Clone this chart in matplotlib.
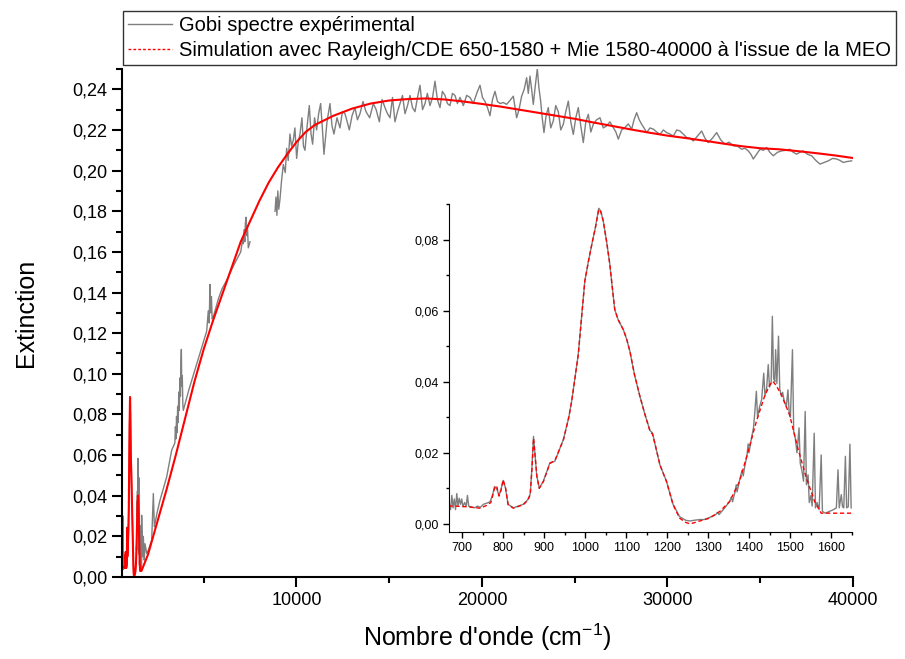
import matplotlib
matplotlib.use("Agg")
import matplotlib.pyplot as plt
from matplotlib.lines import Line2D
from matplotlib.ticker import FuncFormatter, MultipleLocator

plt.rcParams['font.family'] = ['Liberation Sans', 'DejaVu Sans']
plt.rcParams['mathtext.fontset'] = 'custom'
plt.rcParams['mathtext.rm'] = 'Liberation Sans'

# --- Données IR (650-1650 cm-1), simulation Rayleigh/CDE ---
sim_ir_x = [650, 665, 680, 700, 720, 744, 760, 770, 779, 784, 790, 795, 800, 806, 812, 825, 849,
            860, 866, 870, 874, 878, 882, 888, 898, 914, 926, 947, 960, 967, 975, 983, 991, 999,
            1008, 1016, 1025, 1033, 1038, 1044, 1052, 1060, 1066, 1072, 1080, 1093, 1101, 1109,
            1120, 1133, 1145, 1158, 1164, 1170, 1182, 1198, 1214, 1230, 1245, 1255, 1265, 1279,
            1303, 1328, 1352, 1376, 1397, 1417, 1437, 1450, 1457, 1465, 1478, 1498, 1518, 1539,
            1559, 1575]
sim_ir_y = [0.0050, 0.0050, 0.0050, 0.0049, 0.0047, 0.0044, 0.0052, 0.0060, 0.0100, 0.0107,
            0.0078, 0.0095, 0.0124, 0.0100, 0.0054, 0.0044, 0.0054, 0.0066, 0.0082, 0.0150,
            0.0241, 0.0190, 0.0135, 0.0100, 0.0119, 0.0170, 0.0178, 0.0237, 0.0300, 0.0345,
            0.0410, 0.0476, 0.0580, 0.0683, 0.0740, 0.0786, 0.0835, 0.0885, 0.0878, 0.0852,
            0.0795, 0.0730, 0.0665, 0.0603, 0.0575, 0.0546, 0.0520, 0.0485, 0.0420, 0.0360,
            0.0310, 0.0260, 0.0252, 0.0225, 0.0166, 0.0119, 0.0054, 0.0016, 0.0004, 0.0000,
            0.0003, 0.0008, 0.0016, 0.0035, 0.0063, 0.0119, 0.0204, 0.0288, 0.0359, 0.0392,
            0.0401, 0.0390, 0.0363, 0.0307, 0.0213, 0.0129, 0.0063, 0.0030]

# --- Simulation Mie (1580-40000 cm-1) ---
mie_x = [1580, 1600, 1625, 1650, 2000, 2500, 3000, 3500, 4000, 4500, 5000, 5500, 6000, 6500,
         7000, 7500, 8000, 8500, 9000, 9500, 10000, 10500, 11000, 12000, 13000, 14000, 15000,
         16000, 17000, 18000, 19000, 20000, 21000, 22000, 23000, 24000, 25000, 26000, 27000,
         28000, 29000, 30000, 31000, 32000, 33000, 34000, 35000, 36000, 37000, 38000, 39000,
         40000]
mie_y = [0.0030, 0.0030, 0.0030, 0.0030, 0.0110, 0.0270, 0.0430, 0.0600, 0.0780, 0.0960,
         0.1120, 0.1260, 0.1390, 0.1520, 0.1650, 0.1750, 0.1850, 0.1940, 0.2015, 0.2080,
         0.2140, 0.2190, 0.2225, 0.2270, 0.2305, 0.2330, 0.2345, 0.2352, 0.2355, 0.2350,
         0.2340, 0.2328, 0.2315, 0.2300, 0.2285, 0.2270, 0.2255, 0.2237, 0.2220, 0.2203,
         0.2187, 0.2172, 0.2160, 0.2147, 0.2133, 0.2120, 0.2110, 0.2105, 0.2096, 0.2086,
         0.2075, 0.2062]

# --- Spectre expérimental IR ---
exp_ir_x = [650, 655, 660, 668, 672, 675, 678, 681, 684, 687, 690, 693, 696, 699, 702, 706, 710,
            713, 716, 722, 730, 738, 744, 752, 760, 768, 774, 779, 784, 790, 795, 800, 806, 812,
            825, 849, 860, 866, 870, 874, 878, 882, 888, 898, 914, 926, 947, 960, 967, 975, 983,
            991, 999, 1008, 1016, 1025, 1033, 1038, 1044, 1052, 1060, 1066, 1072, 1080, 1093,
            1101, 1109, 1120, 1133, 1145, 1158, 1164, 1170, 1182, 1198, 1214, 1230, 1245, 1255,
            1265, 1279, 1290, 1303, 1318, 1322, 1326, 1340, 1352, 1356, 1359, 1365, 1368, 1370,
            1376, 1382, 1385, 1390, 1394, 1397, 1399, 1405, 1410, 1413, 1417, 1420, 1425, 1430,
            1435, 1438, 1442, 1446, 1449, 1453, 1456, 1459, 1462, 1464, 1467, 1471, 1474, 1478,
            1481, 1485, 1490, 1494, 1497, 1500, 1505, 1508, 1512, 1516, 1521, 1524, 1528, 1532,
            1536, 1539, 1543, 1546, 1550, 1553, 1558, 1561, 1565, 1570, 1575, 1578, 1585, 1595,
            1605, 1612, 1616, 1619, 1624, 1627, 1630, 1634, 1637, 1641, 1645, 1648]
exp_ir_y = [0.0040, 0.0300, 0.0050, 0.0060, 0.0040, 0.0080, 0.0045, 0.0070, 0.0040, 0.0085,
            0.0050, 0.0072, 0.0055, 0.0070, 0.0048, 0.0060, 0.0050, 0.0080, 0.0050, 0.0048,
            0.0045, 0.0050, 0.0046, 0.0055, 0.0058, 0.0062, 0.0080, 0.0105, 0.0100, 0.0080,
            0.0098, 0.0122, 0.0100, 0.0055, 0.0045, 0.0055, 0.0068, 0.0084, 0.0155, 0.0246,
            0.0190, 0.0135, 0.0100, 0.0120, 0.0172, 0.0176, 0.0238, 0.0300, 0.0345, 0.0410,
            0.0476, 0.0580, 0.0683, 0.0740, 0.0786, 0.0835, 0.0888, 0.0880, 0.0852, 0.0795,
            0.0730, 0.0665, 0.0603, 0.0575, 0.0546, 0.0520, 0.0485, 0.0420, 0.0360, 0.0310,
            0.0262, 0.0256, 0.0225, 0.0166, 0.0120, 0.0055, 0.0020, 0.0010, 0.0008, 0.0010,
            0.0012, 0.0012, 0.0018, 0.0026, 0.0032, 0.0026, 0.0045, 0.0063, 0.0075, 0.0062,
            0.0090, 0.0110, 0.0090, 0.0122, 0.0150, 0.0135, 0.0170, 0.0190, 0.0225, 0.0200,
            0.0240, 0.0270, 0.0310, 0.0373, 0.0300, 0.0330, 0.0350, 0.0424, 0.0360, 0.0380,
            0.0448, 0.0385, 0.0395, 0.0584, 0.0410, 0.0400, 0.0490, 0.0395, 0.0528, 0.0380,
            0.0360, 0.0370, 0.0345, 0.0330, 0.0377, 0.0310, 0.0300, 0.0490, 0.0260, 0.0240,
            0.0200, 0.0270, 0.0170, 0.0150, 0.0120, 0.0316, 0.0110, 0.0138, 0.0060, 0.0080,
            0.0050, 0.0255, 0.0045, 0.0060, 0.0040, 0.0194, 0.0035, 0.0030, 0.0035, 0.0040,
            0.0045, 0.0152, 0.0045, 0.0082, 0.0048, 0.0045, 0.0190, 0.0045, 0.0048, 0.0224,
            0.0045]

# --- Spectre expérimental proche IR (1650-7500 cm-1) ---
exp_nir_x = [1660, 1700, 1750, 1800, 1840, 1930, 2020, 2200, 2290, 2344, 2500, 2650, 3009, 3278,
             3450, 3480, 3510, 3540, 3570, 3600, 3630, 3660, 3690, 3720, 3750, 3780, 3800, 3820,
             3850, 3880, 3904, 4200, 4600, 5000, 5165, 5250, 5300, 5343, 5380, 5420, 5460, 5521,
             5800, 6000, 6243, 6600, 7000, 7100, 7138, 7180, 7220, 7250, 7284, 7320, 7360, 7408,
             7500]
exp_nir_y = [0.0304, 0.0100, 0.0200, 0.0083, 0.0164, 0.0116, 0.0132, 0.0181, 0.0411, 0.0247,
             0.0320, 0.0378, 0.0493, 0.0624, 0.0660, 0.0740, 0.0680, 0.0790, 0.0710, 0.0840,
             0.0760, 0.0910, 0.0820, 0.0980, 0.0890, 0.1060, 0.1120, 0.0940, 0.0990, 0.0850,
             0.0820, 0.0920, 0.1040, 0.1160, 0.1210, 0.1310, 0.1250, 0.1440, 0.1300, 0.1380,
             0.1270, 0.1280, 0.1370, 0.1420, 0.1460, 0.1530, 0.1600, 0.1660, 0.1640, 0.1710,
             0.1650, 0.1740, 0.1770, 0.1680, 0.1730, 0.1620, 0.1650]

# --- Spectre expérimental visible/UV (8850-40000 cm-1) ---
exp_vis_x = [8850, 8900, 8950, 9000, 9050, 9116, 9200, 9295, 9400, 9475, 9560, 9654, 9740, 9834,
             9920, 10014, 10100, 10193, 10300, 10380, 10463, 10580, 10696, 10790, 10876, 10980,
             11091, 11200, 11307, 11400, 11486, 11650, 11810, 11920, 12025, 12190, 12349, 12480,
             12618, 12740, 12852, 13000, 13157, 13290, 13427, 13590, 13751, 13950, 14146, 14300,
             14470, 14620, 14775, 14910, 15045, 15180, 15314, 15450, 15584, 15720, 15854, 15990,
             16123, 16260, 16393, 16530, 16662, 16800, 16932, 17060, 17201, 17340, 17471, 17600,
             17740, 17870, 18010, 18140, 18279, 18410, 18549, 18680, 18818, 19000, 19178, 19360,
             19537, 19720, 19896, 20030, 20166, 20300, 20435, 20570, 20705, 20840, 20974, 21150,
             21333, 21510, 21692, 21872, 22000, 22141, 22280, 22411, 22500, 22591, 22680, 22770,
             22880, 22986, 23070, 23166, 23250, 23345, 23460, 23579, 23710, 23848, 23980, 24118,
             24250, 24387, 24520, 24657, 24790, 24926, 25060, 25196, 25330, 25465, 25600, 25735,
             25870, 26004, 26180, 26364, 26540, 26723, 26900, 27082, 27220, 27352, 27530, 27711,
             27890, 28071, 28200, 28340, 28480, 28610, 28740, 28879, 29060, 29239, 29420, 29598,
             29780, 29957, 30140, 30317, 30500, 30676, 30850, 31035, 31200, 31395, 31620, 31844,
             32020, 32203, 32430, 32652, 32880, 33101, 33320, 33550, 33780, 34000, 34180, 34359,
             34500, 34628, 34800, 34988, 35170, 35347, 35520, 35706, 35930, 36155, 36380, 36605,
             36780, 36964, 37140, 37323, 37550, 37772, 38000, 38221, 38440, 38670, 38900, 39119,
             39300, 39479, 39700, 39928]
exp_vis_y = [0.180, 0.187, 0.178, 0.190, 0.181, 0.186, 0.195, 0.203, 0.199, 0.211, 0.205, 0.218,
             0.212, 0.215, 0.221, 0.206, 0.214, 0.218, 0.226, 0.212, 0.210, 0.222, 0.232, 0.218,
             0.213, 0.226, 0.220, 0.228, 0.233, 0.221, 0.208, 0.224, 0.233, 0.222, 0.218, 0.226,
             0.221, 0.229, 0.228, 0.224, 0.220, 0.227, 0.231, 0.225, 0.228, 0.234, 0.229, 0.226,
             0.233, 0.230, 0.224, 0.235, 0.231, 0.228, 0.226, 0.236, 0.224, 0.229, 0.233, 0.237,
             0.228, 0.232, 0.237, 0.231, 0.229, 0.236, 0.242, 0.230, 0.233, 0.238, 0.232, 0.236,
             0.244, 0.235, 0.231, 0.239, 0.237, 0.233, 0.232, 0.238, 0.237, 0.233, 0.236, 0.232,
             0.237, 0.236, 0.233, 0.238, 0.242, 0.236, 0.234, 0.231, 0.227, 0.235, 0.239, 0.234,
             0.233, 0.2335, 0.2326, 0.2345, 0.2366, 0.226, 0.230, 0.2366, 0.240, 0.2457, 0.238,
             0.2465, 0.240, 0.2326, 0.242, 0.250, 0.241, 0.2342, 0.226, 0.2187, 0.227, 0.231,
             0.221, 0.2245, 0.232, 0.229, 0.220, 0.2228, 0.229, 0.2342, 0.224, 0.2178, 0.226,
             0.231, 0.222, 0.2138, 0.224, 0.2277, 0.219, 0.2228, 0.225, 0.226, 0.221, 0.222,
             0.224, 0.2212, 0.219, 0.2155, 0.220, 0.2212, 0.223, 0.2204, 0.225, 0.2285, 0.225,
             0.2228, 0.221, 0.2187, 0.221, 0.2204, 0.219, 0.2178, 0.220, 0.2187, 0.218, 0.217,
             0.220, 0.2195, 0.218, 0.2163, 0.216, 0.2146, 0.217, 0.2195, 0.216, 0.2138, 0.216,
             0.2187, 0.215, 0.213, 0.214, 0.2122, 0.212, 0.2105, 0.211, 0.2097, 0.208, 0.2057,
             0.208, 0.2105, 0.210, 0.2114, 0.209, 0.2073, 0.209, 0.2097, 0.210, 0.2105, 0.209,
             0.2081, 0.209, 0.2097, 0.208, 0.2073, 0.205, 0.2032, 0.204, 0.2048, 0.206, 0.2057,
             0.205, 0.204, 0.2045, 0.2048]

gris = '#7f7f7f'
virgule = FuncFormatter(lambda v, p: f"{v:.2f}".replace('.', ','))

fig = plt.figure(figsize=(9.05, 6.59), dpi=100)

# Graphique principal
ax = fig.add_axes([0.1348, 0.1244, 0.8077, 0.7709])
ax.plot(exp_ir_x + exp_nir_x, exp_ir_y + exp_nir_y, color=gris, lw=1.0)
ax.plot(exp_vis_x, exp_vis_y, color=gris, lw=1.0)
ax.plot(sim_ir_x + mie_x, sim_ir_y + mie_y, color='red', lw=1.5)
ax.set_xlim(600, 40000)
ax.set_ylim(0, 0.25)
ax.xaxis.set_major_locator(MultipleLocator(10000))
ax.xaxis.set_minor_locator(MultipleLocator(5000))
ax.yaxis.set_major_locator(MultipleLocator(0.02))
ax.yaxis.set_minor_locator(MultipleLocator(0.01))
ax.yaxis.set_major_formatter(virgule)
for s in ['top', 'right']:
    ax.spines[s].set_visible(False)
for s in ['left', 'bottom']:
    ax.spines[s].set_linewidth(1.5)
ax.tick_params(which='major', direction='out', length=7, width=1.5, labelsize=13)
ax.tick_params(which='minor', direction='out', length=4, width=1.5)
ax.set_xlabel("Nombre d'onde (cm$^{-1}$)", fontsize=18, labelpad=9)
ax.set_ylabel("Extinction", fontsize=18)
ax.yaxis.set_label_coords(-0.115, 0.52)

# Encart IR
axi = fig.add_axes([0.4961, 0.1927, 0.4453, 0.4977])
axi.plot(exp_ir_x, exp_ir_y, color=gris, lw=1.0)
axi.plot(sim_ir_x + mie_x[:4], sim_ir_y + mie_y[:4], color='red', lw=1.0, ls=(0, (3, 2)))
axi.set_xlim(668, 1650)
axi.set_ylim(-0.0023, 0.090)
axi.xaxis.set_major_locator(MultipleLocator(100))
axi.xaxis.set_minor_locator(MultipleLocator(50))
axi.yaxis.set_major_locator(MultipleLocator(0.02))
axi.yaxis.set_minor_locator(MultipleLocator(0.01))
axi.yaxis.set_major_formatter(virgule)
for s in ['top', 'right']:
    axi.spines[s].set_visible(False)
axi.tick_params(which='major', direction='out', length=4, width=1, labelsize=9)
axi.tick_params(which='minor', direction='out', length=2, width=1)
axi.patch.set_alpha(0)

# Légende
handles = [Line2D([], [], color=gris, lw=1.0),
           Line2D([], [], color='red', lw=1.0, ls=(0, (2, 1.5)))]
labels = ["Gobi spectre expérimental",
          "Simulation avec Rayleigh/CDE 650-1580 + Mie 1580-40000 à l'issue de la MEO"]
leg = fig.legend(handles, labels, loc='upper left', bbox_to_anchor=(123 / 905, 1 - 11 / 659),
                 fontsize=14.5, frameon=True, fancybox=False, edgecolor='black',
                 handlelength=2.2, handletextpad=0.35, borderpad=0.25, labelspacing=0.3,
                 borderaxespad=0)
leg.get_frame().set_linewidth(1.0)

fig.savefig("out.png", dpi=100)
